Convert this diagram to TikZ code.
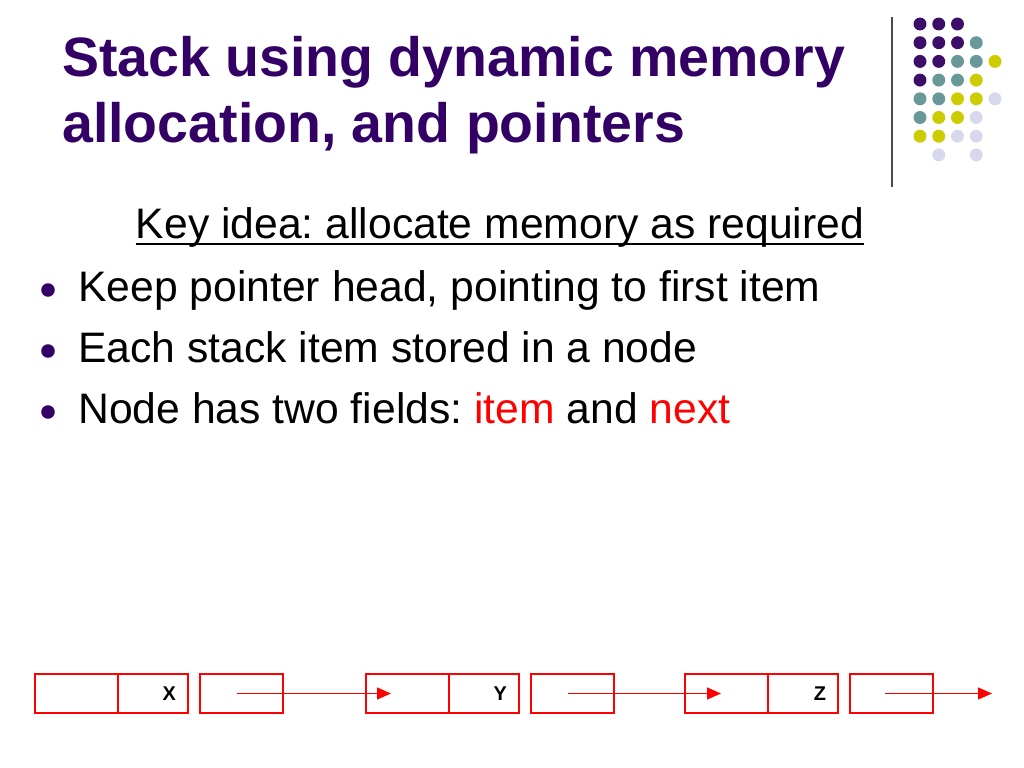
\documentclass[tikz,border=0pt]{standalone}
\usepackage{fontspec}
\setmainfont{Liberation Sans}
\usetikzlibrary{positioning, arrows.meta}
\definecolor{slidepurple}{RGB}{51,0,102}
\definecolor{dotpurple}{RGB}{60,14,104}
\definecolor{dotteal}{RGB}{104,152,152}
\definecolor{dotyellow}{RGB}{204,204,0}
\definecolor{dotlilac}{RGB}{216,216,236}
\frenchspacing

\begin{document}
\begin{tikzpicture}[
    x=0.703125pt, y=-0.703125pt,
    title/.style={anchor=base west, inner sep=0pt, text=slidepurple, font=\fontsize{39}{47}\selectfont\bfseries},
    body/.style={anchor=base west, inner sep=0pt, font=\fontsize{30}{36}\selectfont},
    bullet/.style={circle, fill=slidepurple, inner sep=0pt, minimum size=9.5pt},
    dot/.style={circle, inner sep=0pt, minimum size=9.1pt},
    field/.style={rectangle, draw=red, line width=0.9pt, minimum width=58.4pt, minimum height=27.4pt, inner sep=0pt, outer sep=0pt},
    itemfield/.style={field, minimum width=49.2pt, text width=32.3pt, inner xsep=8.45pt, align=right, font=\fontsize{14}{16}\selectfont\bfseries},
    link/.style={-{Triangle[length=9.8pt, width=8.4pt]}, red, line width=0.8pt}
]
    \useasboundingbox (0,0) rectangle (1024,768);

    % Title
    \node[title] (title1) at (62,76.5) {Stack using dynamic memory};
    \node[title] (title2) at (62,143) {allocation, and pointers};

    % Decoration top right
    \coordinate (sepTop) at (892,17);
    \coordinate (sepBot) at (892,187);
    \draw[gray!60!black, line width=1pt] (sepTop) -- (sepBot);
    \foreach \c/\r/\col in {0/0/dotpurple, 1/0/dotpurple, 2/0/dotpurple,
        0/1/dotpurple, 1/1/dotpurple, 2/1/dotpurple, 3/1/dotteal,
        0/2/dotpurple, 1/2/dotpurple, 2/2/dotteal, 3/2/dotteal, 4/2/dotyellow,
        0/3/dotpurple, 1/3/dotteal, 2/3/dotteal, 3/3/dotyellow,
        0/4/dotteal, 1/4/dotteal, 2/4/dotyellow, 3/4/dotyellow, 4/4/dotlilac,
        0/5/dotteal, 1/5/dotyellow, 2/5/dotyellow, 3/5/dotlilac,
        0/6/dotyellow, 1/6/dotyellow, 2/6/dotlilac, 3/6/dotlilac,
        1/7/dotlilac, 3/7/dotlilac}
        \node[dot, fill=\col] (d\c\r) at ({920+18.75*\c},{24+18.7*\r}) {};

    % Key idea
    \node[anchor=base, inner sep=0pt, font=\fontsize{30}{36}\selectfont] (key) at (500,239) {Key idea: allocate memory as required};
    \draw[line width=1.4pt] ([yshift=-3.5pt]key.base west) -- ([yshift=-3.5pt]key.base east);

    % Bullets
    \node[bullet] (b1) at (48,290) {};
    \node[bullet] (b2) at (48,351) {};
    \node[bullet] (b3) at (48,412) {};
    \node[body] (t1) at (78,301) {Keep pointer head, pointing to first item};
    \node[body] (t2) at (78,362) {Each stack item stored in a node};
    \node[body] (t3) at (78,423) {Node has two fields: \textcolor{red}{item} and \textcolor{red}{next}};

    % Linked list
    \node[field, anchor=west] (n1a) at (35,693.5) {};
    \node[itemfield, right=0pt of n1a] (n1b) {X};
    \node[field, right=8.4pt of n1b] (n1c) {};

    \node[field, anchor=west] (n2a) at (366,693.5) {};
    \node[itemfield, right=0pt of n2a] (n2b) {Y};
    \node[field, right=8.4pt of n2b] (n2c) {};

    \node[field, anchor=west] (n3a) at (685,693.5) {};
    \node[itemfield, right=0pt of n3a] (n3b) {Z};
    \node[field, right=8.4pt of n3b] (n3c) {};

    \coordinate (tip1) at (391,693.5);
    \coordinate (tip2) at (721,693.5);
    \coordinate (tip3) at (992,693.5);

    % Arrows
    \draw[link] ([xshift=-3.5pt]n1c.center) -- (tip1);
    \draw[link] ([xshift=-3.5pt]n2c.center) -- (tip2);
    \draw[link] ([xshift=-4.5pt]n3c.center) -- (tip3);
\end{tikzpicture}
\end{document}
